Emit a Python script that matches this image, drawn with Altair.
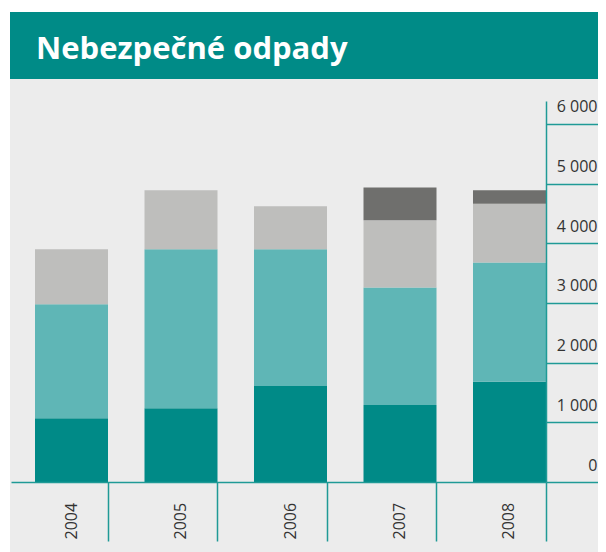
import altair as alt
import pandas as pd

# ---- data ----
years = ["2004", "2005", "2006", "2007", "2008"]
series = ["řada 1", "řada 2", "řada 3", "řada 4"]
s1 = [1070, 1235, 1610, 1290, 1680]
s2 = [1910, 2665, 2290, 1970, 2000]
s3 = [920, 990, 720, 1125, 985]
s4 = [0, 0, 0, 550, 225]
y_ticks = [0, 1000, 2000, 3000, 4000, 5000, 6000]
title_text = "Nebezpečné odpady"

colors = ["#008A87", "#5FB6B6", "#BEBEBC", "#6F6F6D"]
axis_color = "#1F9A96"
label_color = "#333333"

rows = []
for i, yr in enumerate(years):
    for k, vals in enumerate([s1, s2, s3, s4]):
        rows.append({"rok": yr, "serie": series[k], "hodnota": vals[i], "poradi": k})
df = pd.DataFrame(rows)

one = pd.DataFrame({"a": [0]})

panel = alt.Chart(one).mark_rect(color="#ECECEC").encode(
    x=alt.value(-1), x2=alt.value(700), y=alt.value(-89), y2=alt.value(700)
)
header = alt.Chart(one).mark_rect(color="#008B87").encode(
    x=alt.value(-1), x2=alt.value(700), y=alt.value(-89), y2=alt.value(-22)
)
title = alt.Chart(one).mark_text(
    text=title_text, align="left", baseline="alphabetic", font="Open Sans",
    fontSize=31, fontWeight="bold", color="white"
).encode(x=alt.value(25), y=alt.value(-42))

bars = alt.Chart(df).mark_bar().encode(
    x=alt.X(
        "rok:N",
        sort=years,
        scale=alt.Scale(paddingInner=0.3333, paddingOuter=0.1096, align=1),
        axis=alt.Axis(
            title=None, orient="bottom", zindex=1,
            domainColor=axis_color, domainWidth=1.5,
            bandPosition=1, tickColor=axis_color, tickWidth=1.5, tickSize=59,
            labelAngle=-90, labelAlign="left", labelBaseline="middle",
            labelPadding=-2, labelFont="Open Sans", labelFontSize=16,
            labelColor=label_color, grid=False,
        ),
    ),
    y=alt.Y(
        "hodnota:Q",
        stack="zero",
        scale=alt.Scale(domain=[0, 6385], nice=False, zero=True),
        axis=alt.Axis(
            title=None, orient="right", zindex=1, values=y_ticks,
            domainColor=axis_color, domainWidth=1.5,
            tickColor=axis_color, tickWidth=1.5, tickSize=52,
            labelAlign="right", labelBaseline="alphabetic", labelOffset=-12,
            labelPadding=-1, labelFlush=False, labelOverlap=False,
            labelFont="Open Sans", labelFontSize=16, labelColor=label_color,
            labelExpr="replace(format(datum.value, ','), ',', ' ')",
            grid=False,
        ),
    ),
    color=alt.Color("serie:N", scale=alt.Scale(domain=series, range=colors), legend=None),
    order=alt.Order("poradi:Q", sort="ascending"),
)

chart = alt.layer(panel, header, title, bars).properties(
    width=535,
    height=381,
    autosize=alt.AutoSizeParams(type="none"),
    padding={"left": 3, "top": 93, "right": 52, "bottom": 70},
    background="white",
).configure_view(stroke=None)

chart.save("out.html", embed_options={"renderer": "svg", "actions": False})
